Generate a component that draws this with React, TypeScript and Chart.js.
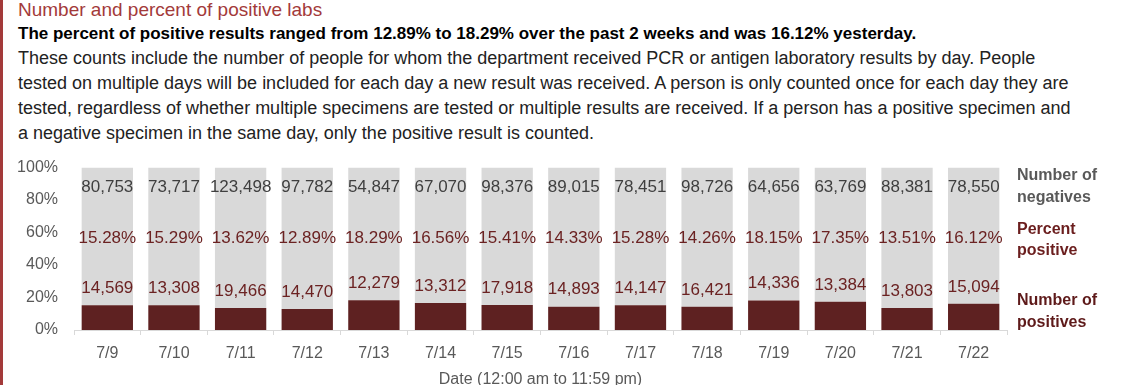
import React, { useEffect, useRef } from "react";
import { Chart, registerables } from "chart.js";

Chart.register(...registerables);

const categories = ["7/9", "7/10", "7/11", "7/12", "7/13", "7/14", "7/15", "7/16", "7/17", "7/18", "7/19", "7/20", "7/21", "7/22"];
const percentPositive = [15.28, 15.29, 13.62, 12.89, 18.29, 16.56, 15.41, 14.33, 15.28, 14.26, 18.15, 17.35, 13.51, 16.12];
const percentNegative = percentPositive.map((p) => Math.round((100 - p) * 100) / 100);
const negativeCounts = ["80,753", "73,717", "123,498", "97,782", "54,847", "67,070", "98,376", "89,015", "78,451", "98,726", "64,656", "63,769", "88,381", "78,550"];
const positiveCounts = ["14,569", "13,308", "19,466", "14,470", "12,279", "13,312", "17,918", "14,893", "14,147", "16,421", "14,336", "13,384", "13,803", "15,094"];
const yTicks = [0, 20, 40, 60, 80, 100];

const FONT = "'Liberation Sans', Arial, sans-serif";
const MAROON = "#5E2121";
const LABEL_MAROON = "#6B2222";
const GRAY = "#595959";

const labelPlugin = {
  id: "barLabels",
  afterDatasetsDraw(chart: any) {
    const ctx = chart.ctx;
    const y = chart.scales.y;
    const x = chart.scales.x;
    const posMeta = chart.getDatasetMeta(0);
    ctx.save();
    ctx.textAlign = "center";
    ctx.textBaseline = "middle";
    ctx.font = `17px ${FONT}`;
    posMeta.data.forEach((bar: any, i: number) => {
      const cx = bar.x;
      ctx.fillStyle = "#3F3F3F";
      ctx.fillText(negativeCounts[i], cx, y.getPixelForValue(88));
      ctx.fillStyle = LABEL_MAROON;
      ctx.fillText(percentPositive[i].toFixed(2) + "%", cx, y.getPixelForValue(56.5));
      ctx.fillText(positiveCounts[i], cx, bar.y - 17);
    });
    // legend text on the right
    ctx.textAlign = "left";
    ctx.font = `bold 16px ${FONT}`;
    const lx = chart.chartArea.right + 10;
    const top = chart.chartArea.top;
    ctx.fillStyle = GRAY;
    ctx.fillText("Number of", lx, top + 8);
    ctx.fillText("negatives", lx, top + 30);
    ctx.fillStyle = "#6B1E1E";
    ctx.fillText("Percent", lx, top + 62);
    ctx.fillText("positive", lx, top + 83);
    ctx.fillStyle = "#5E1A1A";
    ctx.fillText("Number of", lx, top + 133);
    ctx.fillText("positives", lx, top + 155);
    // x axis title
    ctx.textAlign = "center";
    ctx.font = `16px ${FONT}`;
    ctx.fillStyle = GRAY;
    ctx.fillText("Date (12:00 am to 11:59 pm)", (x.left + x.right) / 2, chart.chartArea.bottom + 50);
    ctx.restore();
  },
};

export default function App() {
  const ref = useRef<HTMLCanvasElement>(null);

  useEffect(() => {
    document.body.style.margin = "0";
    const chart = new Chart(ref.current as HTMLCanvasElement, {
      type: "bar",
      data: {
        labels: categories,
        datasets: [
          { label: "Percent positive", data: percentPositive, backgroundColor: MAROON, borderWidth: 0, barPercentage: 0.77, categoryPercentage: 1 },
          { label: "Percent negative", data: percentNegative, backgroundColor: "#D9D9D9", borderWidth: 0, barPercentage: 0.77, categoryPercentage: 1 },
        ],
      },
      options: {
        responsive: false,
        animation: false,
        layout: { padding: { top: 9, right: 133, left: 0, bottom: 0 } },
        plugins: { legend: { display: false }, tooltip: { enabled: false } },
        scales: {
          x: {
            stacked: true,
            grid: { offset: true, drawOnChartArea: false, drawTicks: true, tickLength: 5, color: "#D9D9D9" },
            border: { display: true, color: "#D9D9D9", width: 1 },
            ticks: { color: GRAY, font: { family: FONT, size: 16 }, padding: 9 },
            afterFit: (s: any) => { s.height = 55; },
          },
          y: {
            stacked: true,
            min: 0,
            max: 100,
            afterBuildTicks: (s: any) => { s.ticks = yTicks.map((v) => ({ value: v })); },
            grid: { display: false },
            border: { display: false },
            ticks: { color: GRAY, font: { family: FONT, size: 16 }, padding: 8, callback: (v: any) => v + "%" },
            afterFit: (s: any) => { s.width = 74; },
          },
        },
      },
      plugins: [labelPlugin],
    });
    return () => chart.destroy();
  }, []);

  const lineStyle: React.CSSProperties = { whiteSpace: "nowrap", height: 25, lineHeight: "25px", fontSize: 18, color: "#222" };

  return (
    <div style={{ position: "relative", width: 1140, height: 385, overflow: "hidden", fontFamily: FONT, background: "#fff" }}>
      <div style={{ position: "absolute", left: 0, top: 0, width: 3, height: 385, background: "#A33A3A" }} />
      <div style={{ position: "absolute", left: 18, top: -2 }}>
        <div style={{ fontSize: 19, height: 23, lineHeight: "23px", color: "#A33A3A", whiteSpace: "nowrap" }}>Number and percent of positive labs</div>
        <div style={{ fontSize: 17, fontWeight: "bold", height: 25, lineHeight: "25px", color: "#000", whiteSpace: "nowrap" }}>
          The percent of positive results ranged from 12.89% to 18.29% over the past 2 weeks and was 16.12% yesterday.
        </div>
        <div style={lineStyle}>These counts include the number of people for whom the department received PCR or antigen laboratory results by day. People</div>
        <div style={lineStyle}>tested on multiple days will be included for each day a new result was received. A person is only counted once for each day they are</div>
        <div style={lineStyle}>tested, regardless of whether multiple specimens are tested or multiple results are received. If a person has a positive specimen and</div>
        <div style={lineStyle}>a negative specimen in the same day, only the positive result is counted.</div>
      </div>
      <div style={{ position: "absolute", left: 0, top: 150 }}>
        <canvas ref={ref} width={1140} height={235} />
      </div>
    </div>
  );
}
